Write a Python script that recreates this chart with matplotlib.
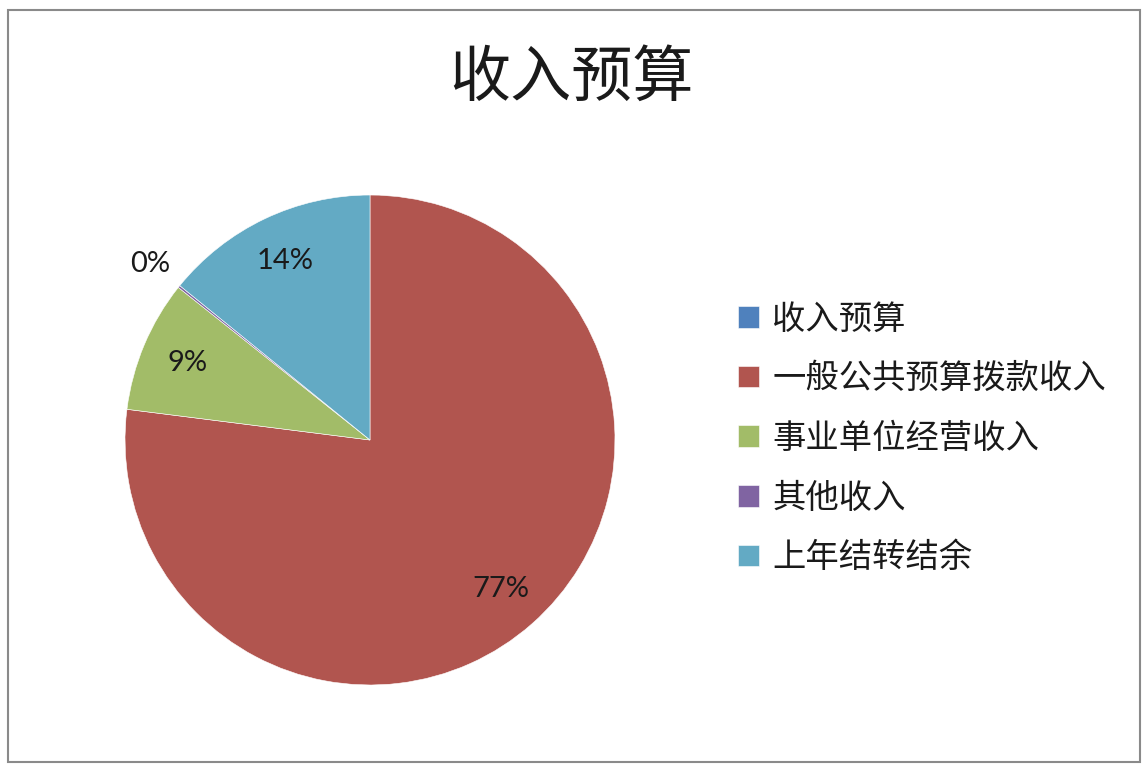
import matplotlib
matplotlib.use('Agg')
import matplotlib.pyplot as plt
import numpy as np
from matplotlib.patches import Rectangle

plt.rcParams['font.family'] = ['Noto Sans CJK SC', 'DejaVu Sans']

title = '收入预算'
labels = ['收入预算', '一般公共预算拨款收入', '事业单位经营收入', '其他收入', '上年结转结余']
values = [0.0, 77.0, 8.7, 0.15, 14.15]
colors = ['#4F81BD', '#B1554F', '#A2BC68', '#8064A2', '#63AAC4']

fig = plt.figure(figsize=(11.48, 7.72), dpi=100)
fig.patch.set_facecolor('white')

# gray chart frame
fig.add_artist(Rectangle((8/1148, 10/772), 1132/1148, 752/772, transform=fig.transFigure,
                         fill=False, edgecolor='#8A8A8A', linewidth=1.5))

ax = fig.add_axes([0.1089, 0.1127, 0.4268, 0.6347])
wedges, texts, autotexts = ax.pie(values, colors=colors, startangle=90, counterclock=False,
                                  autopct=lambda p: '%d%%' % round(p), pctdistance=0.81,
                                  wedgeprops=dict(linewidth=0.4, edgecolor='white'),
                                  textprops=dict(fontsize=21, color='#1a1a1a', family=['Lato', 'DejaVu Sans']))
ax.set_xlim(-1, 1)
ax.set_ylim(-1, 1)
ax.set_aspect('equal')

# first slice is empty: drop its label; tiny slice gets its label outside
autotexts[0].set_visible(False)
w = wedges[3]
ang = np.deg2rad((w.theta1 + w.theta2) / 2)
autotexts[3].set_position((1.15 * np.cos(ang), 1.15 * np.sin(ang)))
for t in autotexts:
    t.set_clip_on(False)

fig.text(0.498, 0.898, title, ha='center', va='center', fontsize=44, color='#1a1a1a')

fig.legend(wedges, labels, loc='center left', bbox_to_anchor=(0.617, 0.432), frameon=False,
           fontsize=24, handlelength=0.62, handleheight=0.62, handletextpad=0.4,
           labelspacing=0.74, labelcolor='#1a1a1a')

fig.savefig('out.png', dpi=100)
